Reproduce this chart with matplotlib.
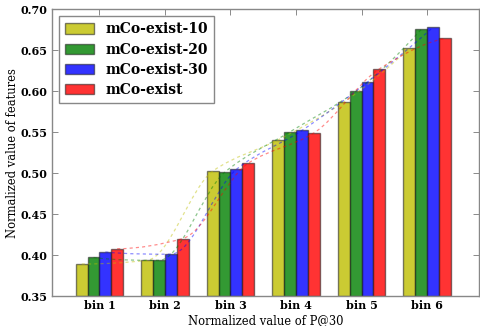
import numpy as np
import matplotlib
matplotlib.use("Agg")
import matplotlib.pyplot as plt
from matplotlib.colors import to_rgba
from matplotlib.path import Path
from matplotlib.patches import PathPatch

bins = ["bin 1", "bin 2", "bin 3", "bin 4", "bin 5", "bin 6"]
series_names = ["mCo-exist-10", "mCo-exist-20", "mCo-exist-30", "mCo-exist"]
mco10 = [0.389, 0.3935, 0.5024, 0.5406, 0.5866, 0.6524]
mco20 = [0.397, 0.3935, 0.5008, 0.5504, 0.5996, 0.6752]
mco30 = [0.4037, 0.401, 0.5045, 0.552, 0.611, 0.6777]
mco = [0.4077, 0.420, 0.512, 0.5488, 0.627, 0.6643]
colors = ["y", "g", "b", "r"]

series = [mco10, mco20, mco30, mco]

fig = plt.figure(figsize=(4.81, 3.26), dpi=100)
ax = fig.add_axes([0.108, 0.092, 0.888, 0.880])

w = 0.18
idx = np.arange(len(bins))


def smooth_path(xs, ys):
    # monotone cubic (PCHIP) curve through the bar tops, as Bezier segments
    ys = np.asarray(ys, float)
    n = len(ys)
    h = xs[1] - xs[0]
    d = np.diff(ys) / h
    m = np.zeros(n)
    for i in range(1, n - 1):
        if d[i - 1] * d[i] > 0:
            m[i] = 2.0 / (1.0 / d[i - 1] + 1.0 / d[i])

    def end(d0, d1):
        s = (3 * d0 - d1) / 2
        if np.sign(s) != np.sign(d0):
            return 0.0
        if np.sign(d0) != np.sign(d1) and abs(s) > 3 * abs(d0):
            return 3 * d0
        return s

    m[0] = end(d[0], d[1])
    m[-1] = end(d[-1], d[-2])
    verts = [(xs[0], ys[0])]
    codes = [Path.MOVETO]
    for i in range(n - 1):
        verts += [(xs[i] + h / 3, ys[i] + m[i] * h / 3),
                  (xs[i + 1] - h / 3, ys[i + 1] - m[i + 1] * h / 3),
                  (xs[i + 1], ys[i + 1])]
        codes += [Path.CURVE4] * 3
    return Path(verts, codes)


for j, (vals, c, name) in enumerate(zip(series, colors, series_names)):
    xs = idx + (j - 1.5) * w
    ax.bar(xs, np.array(vals) - 0.35, width=w, bottom=0.35,
           color=to_rgba(c, 0.8), edgecolor=(0.1, 0.1, 0.1, 0.55),
           linewidth=1, label=name, zorder=2)
    p = smooth_path(xs, vals)
    ax.add_patch(PathPatch(p, facecolor="none", edgecolor=c, alpha=0.45,
                           linewidth=0.9, linestyle=(0, (2.5, 2.5)), zorder=3))

ax.set_xlim(-0.725, 5.794)
ax.set_ylim(0.35, 0.70)
ax.set_xticks(idx)
ax.set_xticklabels(bins, fontfamily="DejaVu Serif", fontweight="bold", fontsize=8)
yt = np.arange(0.35, 0.7001, 0.05)
ax.set_yticks(yt)
ax.set_yticklabels(["%.2f" % v for v in yt], fontfamily="DejaVu Serif",
                   fontweight="bold", fontsize=8)
ax.tick_params(direction="in", top=True, right=True, length=4, width=0.6,
               color="#777777", pad=3)
for s in ax.spines.values():
    s.set_color("#888888")
    s.set_linewidth(1)

ax.set_xlabel("Normalized value of P@30", fontfamily="DejaVu Serif", fontsize=8.3,
              labelpad=2)
ax.set_ylabel("Normalized value of features", fontfamily="DejaVu Serif", fontsize=8.3,
              labelpad=1)

leg = ax.legend(loc="upper left", prop={"family": "DejaVu Serif", "weight": "bold",
                                        "size": 10},
                fancybox=False, framealpha=1, edgecolor="#888888",
                handlelength=2.1, handleheight=0.75, borderaxespad=0.5,
                labelspacing=0.45, handletextpad=0.8, borderpad=0.45)
leg.get_frame().set_linewidth(1)

fig.savefig("out.png", dpi=100)
